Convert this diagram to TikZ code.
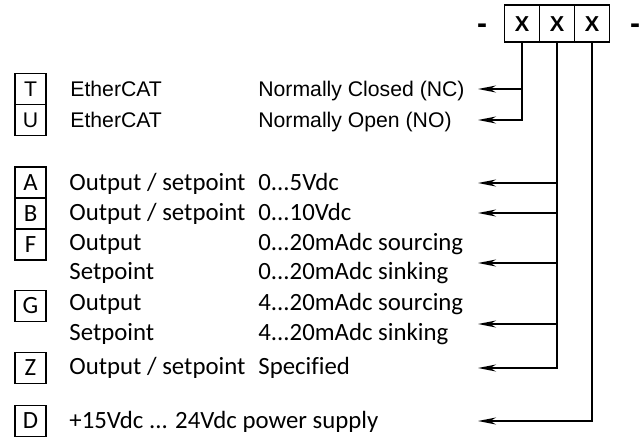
\documentclass[tikz,border=0pt]{standalone}
\usepackage{fontspec}
\setmainfont{Carlito}[Ligatures={TeX,NoCommon}]
\newfontfamily\arialfont{Liberation Sans}
\usetikzlibrary{positioning,arrows.meta}

\tikzset{
  codebox/.style={draw, line width=0.8pt, outer sep=0pt, inner sep=0pt, minimum width=15.5pt, minimum height=15.5pt, text height=7.9pt, text depth=0pt, font=\fontsize{12.4}{14}\selectfont},
  acodebox/.style={codebox, text height=7.6pt, font=\arialfont\fontsize{10.6}{12}\selectfont},
  digitbox/.style={draw, line width=0.8pt, outer sep=0pt, inner sep=0pt, minimum width=17.5pt, minimum height=18.5pt, text height=7.7pt, text depth=0pt, font=\arialfont\bfseries\fontsize{10.8}{12}\selectfont},
  hyph/.style={inner sep=0pt, font=\arialfont\bfseries\fontsize{15}{16}\selectfont},
  txt/.style={anchor=west, inner sep=0pt, text height=7.9pt, text depth=0pt, font=\fontsize{12.4}{14}\selectfont},
  atxt/.style={anchor=west, inner sep=0pt, text height=7.6pt, text depth=0pt, font=\arialfont\fontsize{10.6}{12}\selectfont},
  lead/.style={line width=0.9pt, -{Stealth[length=9pt, width=3.5pt]}}
}

\begin{document}
\begin{tikzpicture}[x=0.5pt, y=-0.5pt]
\useasboundingbox (0,0) rectangle (641,446);

% order code
\node (x1) [digitbox] at (522,23.5) {X};
\node (x2) [digitbox, right=0pt of x1] {X};
\node (x3) [digitbox, right=0pt of x2] {X};
\node (dl) [hyph, anchor=base] at (482,33) {-};
\node (dr) [hyph, anchor=base] at (635,33) {-};

% bus type
\node (T) [acodebox] at (30.5,89) {T};
\node (U) [acodebox, below=0pt of T] {U};
\node (tT) [atxt] at (70,89) {EtherCAT};
\node (tU) [atxt] at (70,120) {EtherCAT};
\node (vT) [atxt] at (258,89) {Normally Closed (NC)};
\node (vU) [atxt] at (258,120) {Normally Open (NO)};

% signal type
\node (A) [codebox] at (30.5,182.5) {A};
\node (B) [codebox, below=0pt of A] {B};
\node (F) [codebox, below=0pt of B] {F};
\node (G) [codebox] at (30.5,306) {G};
\node (Z) [codebox] at (30.5,368) {Z};
\node (tA) [txt] at (69,183) {Output / setpoint};
\node (tB) [txt] at (69,213) {Output / setpoint};
\node (tF) [txt] at (69,243) {Output};
\node (tF2) [txt] at (69,272) {Setpoint};
\node (tG) [txt] at (69,303) {Output};
\node (tG2) [txt] at (69,333) {Setpoint};
\node (tZ) [txt] at (69,367) {Output / setpoint};
\node (vA) [txt] at (258,183) {0...5Vdc};
\node (vB) [txt] at (258,213) {0...10Vdc};
\node (vF) [txt] at (258,243) {0...20mAdc sourcing};
\node (vF2) [txt] at (258,272) {0...20mAdc sinking};
\node (vG) [txt] at (258,303) {4...20mAdc sourcing};
\node (vG2) [txt] at (258,333) {4...20mAdc sinking};
\node (vZ) [txt] at (258,367) {Specified};

% supply
\node (D) [codebox] at (30.5,421) {D};
\node (tD) [txt] at (69,421) {+15Vdc ... 24Vdc power supply};

% arrow ends
\coordinate (eT) at (478,89);
\coordinate (eU) at (478,120);
\coordinate (eA) at (478,183);
\coordinate (eB) at (478,213);
\coordinate (eF) at (478,263);
\coordinate (eG) at (478,324);
\coordinate (eZ) at (478,368);
\coordinate (eD) at (478,421);

\draw[lead] (x1.south) |- (eU);
\draw[lead] (x1.south |- eT) -- (eT);
\draw[lead] (x2.south) |- (eZ);
\draw[lead] (x2.south |- eA) -- (eA);
\draw[lead] (x2.south |- eB) -- (eB);
\draw[lead] (x2.south |- eF) -- (eF);
\draw[lead] (x2.south |- eG) -- (eG);
\draw[lead] (x3.south) |- (eD);
\end{tikzpicture}
\end{document}
